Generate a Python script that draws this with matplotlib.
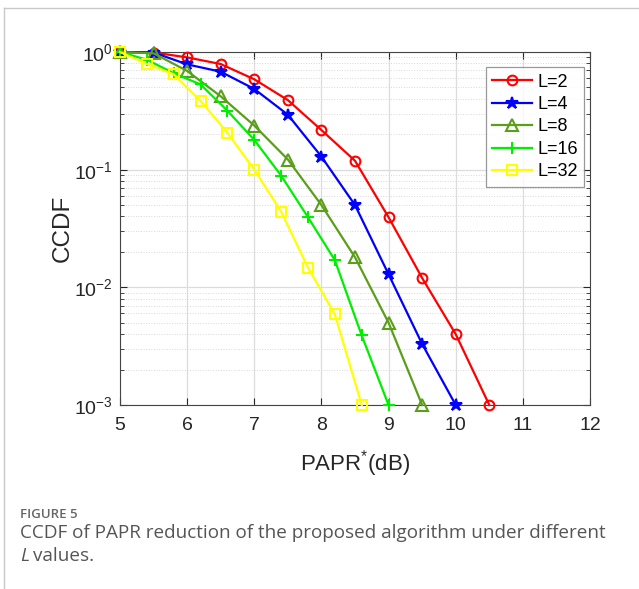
import matplotlib
matplotlib.use("Agg")
import matplotlib.pyplot as plt
from matplotlib.lines import Line2D
from matplotlib.ticker import LogLocator, NullFormatter

plt.rcParams['font.family'] = ['Liberation Sans', 'DejaVu Sans']
plt.rcParams['mathtext.fontset'] = 'custom'
plt.rcParams['mathtext.rm'] = 'Liberation Sans'
plt.rcParams['mathtext.it'] = 'Liberation Sans:italic'

# PAPR* thresholds (dB) and CCDF values for each L
x_l2 = [5.0, 5.5, 6.0, 6.5, 7.0, 7.5, 8.0, 8.5, 9.0, 9.5, 10.0, 10.5]
y_l2 = [1.0, 0.99, 0.90, 0.79, 0.586, 0.39, 0.217, 0.119, 0.0394, 0.012, 0.004, 0.001]

x_l4 = [5.0, 5.5, 6.0, 6.5, 7.0, 7.5, 8.0, 8.5, 9.0, 9.5, 10.0]
y_l4 = [1.0, 0.99, 0.785, 0.68, 0.485, 0.293, 0.129, 0.050, 0.0129, 0.0033, 0.001]

x_l8 = [5.0, 5.5, 6.0, 6.5, 7.0, 7.5, 8.0, 8.5, 9.0, 9.5]
y_l8 = [1.0, 0.975, 0.69, 0.42, 0.237, 0.122, 0.050, 0.018, 0.0050, 0.001]

x_l16 = [5.0, 5.4, 5.8, 6.2, 6.6, 7.0, 7.4, 7.8, 8.2, 8.6, 9.0]
y_l16 = [1.0, 0.86, 0.66, 0.53, 0.317, 0.179, 0.089, 0.0394, 0.017, 0.0039, 0.001]

x_l32 = [5.0, 5.4, 5.8, 6.2, 6.6, 7.0, 7.4, 7.8, 8.2, 8.6]
y_l32 = [1.0, 0.79, 0.646, 0.384, 0.206, 0.10, 0.044, 0.0147, 0.0059, 0.001]

series = [
    ("L=2",  x_l2,  y_l2,  "#ff0000", "o", 7),
    ("L=4",  x_l4,  y_l4,  "#0000ff", "*", 9),
    ("L=8",  x_l8,  y_l8,  "#5a9e1a", "^", 8),
    ("L=16", x_l16, y_l16, "#00ee00", "+", 9),
    ("L=32", x_l32, y_l32, "#ffff00", "s", 7),
]

fig = plt.figure(figsize=(6.39, 5.89), dpi=100)
ax = fig.add_axes([120/639, 1 - 405/589, 470/639, 353/589])

for label, xs, ys, color, marker, ms in series:
    face = color if marker == "*" else "none"
    ax.semilogy(xs, ys, color=color, lw=1.6, marker=marker, ms=ms,
                mfc=face, mec=color, mew=1.5, label=label, clip_on=False, zorder=3)

ax.set_xlim(5, 12)
ax.set_ylim(1e-3, 1)
ax.set_xticks(range(5, 13))
ax.yaxis.set_major_locator(LogLocator(base=10, numticks=10))
ax.yaxis.set_minor_locator(LogLocator(base=10, subs=range(2, 10), numticks=20))
ax.yaxis.set_minor_formatter(NullFormatter())

ax.grid(True, which="major", color="#dcdcdc", lw=0.9, ls="-")
ax.grid(True, which="minor", axis="y", color="#d8d8d8", lw=0.7, ls=":")
ax.set_axisbelow(True)

ax.tick_params(which="both", direction="in", top=True, right=True,
               labelsize=14, colors="#262626")
ax.tick_params(which="major", length=5)
ax.tick_params(which="minor", length=3)
ax.tick_params(axis="x", pad=9)
ax.tick_params(axis="y", pad=5)
for sp in ax.spines.values():
    sp.set_color("#444444")
    sp.set_linewidth(0.8)

ax.set_xlabel(r"PAPR$^{*}$(dB)", fontsize=16, color="#262626", labelpad=10)
ax.set_ylabel("CCDF", fontsize=17.5, color="#262626", labelpad=0)

leg = ax.legend(loc="upper right", bbox_to_anchor=(0.995, 0.967), fontsize=13,
                frameon=True, fancybox=False, edgecolor="#808080",
                handlelength=2.2, handletextpad=0.3, borderpad=0.35,
                labelspacing=0.3, borderaxespad=0.2)
leg.get_frame().set_linewidth(0.9)

# panel border lines (left and top)
fig.add_artist(Line2D([4/639, 4/639], [0, 1 - 8/589], color="#c8c8c8", lw=1.0))
fig.add_artist(Line2D([4/639, 1], [1 - 8/589, 1 - 8/589], color="#c8c8c8", lw=1.0))

cap_font = ["Open Sans", "DejaVu Sans"]
fig.text(20/639, 1 - 514/589, "FIGURE 5", fontsize=9.5, color="#666666",
         family=cap_font, fontweight="semibold", va="center")
fig.text(20/639, 1 - 533/589,
         "CCDF of PAPR reduction of the proposed algorithm under different",
         fontsize=13.6, color="#555555", family=cap_font, va="center")
fig.text(20/639, 1 - 556/589, "L", fontsize=13.6, color="#555555", style="italic",
         family=cap_font, va="center")
fig.text(33/639, 1 - 556/589, "values.", fontsize=13.6, color="#555555",
         family=cap_font, va="center")

fig.savefig("out.png", dpi=100, facecolor="white")
